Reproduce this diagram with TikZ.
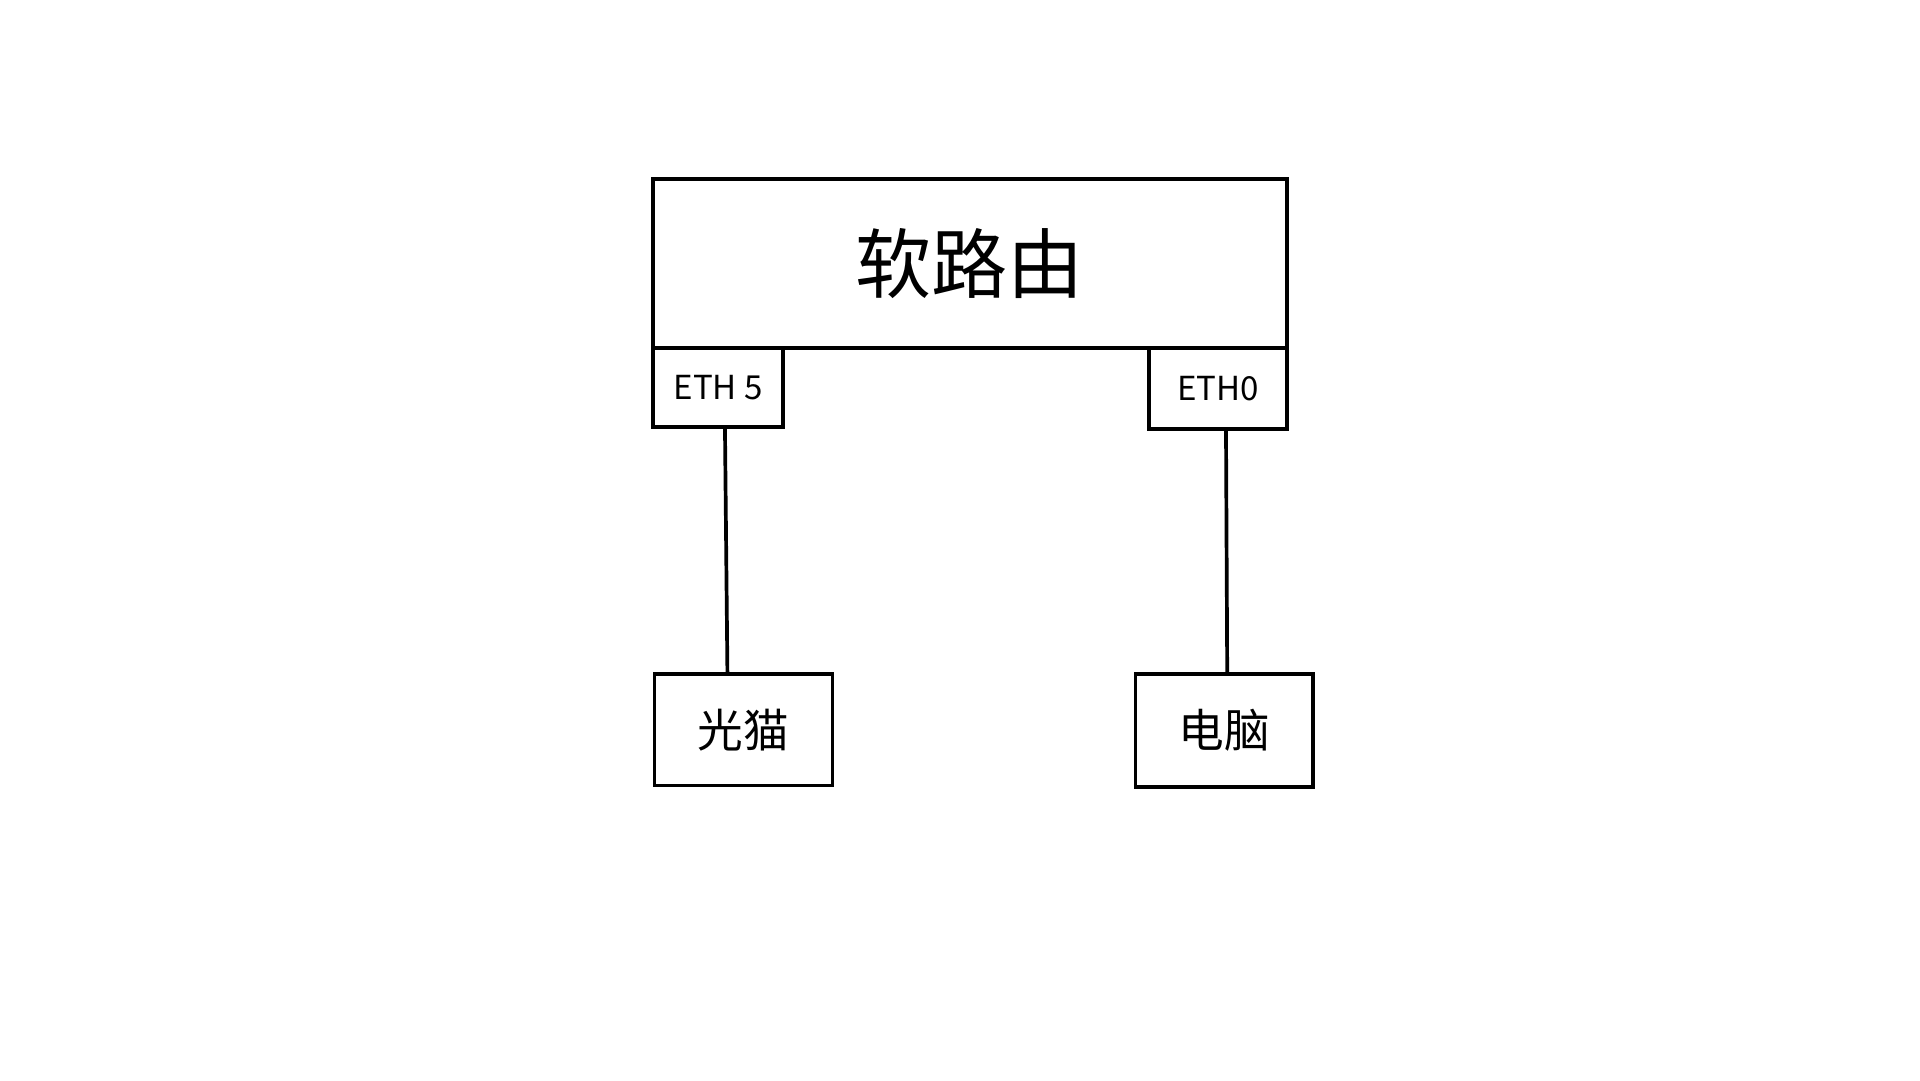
\documentclass[tikz,border=0pt]{standalone}
\usepackage{fontspec}
\setmainfont{Noto Sans CJK SC}
\usetikzlibrary{positioning}
\begin{document}
\begin{tikzpicture}[x=0.01cm,y=-0.01cm]
\tikzset{
box/.style = {rectangle,draw,line width=0.85pt,
              inner sep=0pt,outer sep=0pt},
port/.style = {box,font=\fontsize{7.6}{9}\selectfont},
host/.style = {box,font=\fontsize{10.5}{12}\selectfont},
link/.style = {line width=0.85pt}
}
\useasboundingbox (0,0) rectangle (1552,873);

\node[box,minimum width=512\pgflinewidth,minimum width=1.456cm*3.5165,minimum height=1.36cm,
      font=\fontsize{17.5}{20}\selectfont] (router) at (784,213) {软路由};
\node[port,minimum width=1.05cm,minimum height=0.64cm] (eth5) at (580.5,313) {ETH 5};
\node[port,minimum width=1.11cm,minimum height=0.66cm] (eth0) at (984.5,314) {ETH0};
\node[host,minimum width=1.44cm,minimum height=0.90cm] (modem) at (601,590) {光猫};
\node[host,minimum width=1.43cm,minimum height=0.91cm] (pc) at (989.5,590.5) {电脑};

\coordinate (m) at (588,545);
\coordinate (p) at (992,545);
\draw[link] (eth5.south -| 586,0) -- (modem.north -| m);
\draw[link] (eth0.south -| 991,0) -- (pc.north -| p);
\end{tikzpicture}
\end{document}
